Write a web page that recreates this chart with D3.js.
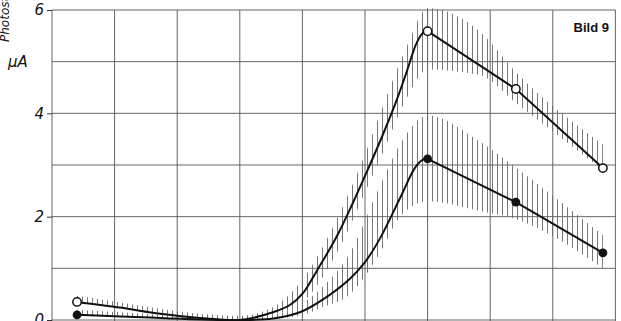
<!DOCTYPE html>
<html lang="de">
<head>
<meta charset="UTF-8">
<title>Bild 9</title>
<script src="https://cdn.jsdelivr.net/npm/d3@7"></script>
<style>
  body { margin: 0; background: #fff; }
  svg { display: block; }
</style>
</head>
<body>
<svg id="chart" width="621" height="321"></svg>
<script>
// grid / axis
const xTicks = [0, 1, 2, 3, 4, 5, 6, 7, 8, 9];
const yTicks = [0, 1, 2, 3, 4, 5, 6];
const yLabels = [0, 2, 4, 6];

// open circles curve (rising part)
const openRiseX = [0.40, 1.09, 1.73, 2.36, 3.00, 3.53, 3.80, 4.01, 4.23, 4.55, 4.80, 5.03, 5.29, 5.51, 5.67, 5.82, 5.92, 6.00];
const openRiseY = [0.35, 0.24, 0.12, 0.04, 0.00, 0.15, 0.29, 0.52, 0.95, 1.62, 2.25, 2.87, 3.60, 4.27, 4.82, 5.35, 5.55, 5.59];
const openMarkX = [0.40, 6.00, 7.41, 8.80];
const openMarkY = [0.35, 5.59, 4.47, 2.94];
const openBandX = [0.40, 1.09, 1.73, 2.36, 3.00, 3.53, 4.01, 4.55, 5.03, 5.29, 5.67, 6.00, 6.83, 7.41, 8.80];
const openBandLo = [0.35, 0.24, 0.12, 0.03, 0.00, 0.10, 0.35, 1.30, 2.55, 3.25, 4.30, 4.85, 4.74, 4.20, 2.90];
const openBandHi = [0.47, 0.34, 0.22, 0.12, 0.08, 0.25, 0.80, 1.95, 3.30, 4.15, 5.30, 6.05, 5.59, 4.80, 3.40];

// filled circles curve
const fillRiseX = [0.40, 1.09, 1.73, 2.36, 3.00, 3.53, 3.96, 4.33, 4.76, 5.00, 5.24, 5.56, 5.80, 5.92, 6.00];
const fillRiseY = [0.10, 0.07, 0.04, 0.01, 0.00, 0.03, 0.15, 0.40, 0.80, 1.12, 1.58, 2.36, 2.95, 3.10, 3.12];
const fillMarkX = [0.40, 6.00, 7.41, 8.80];
const fillMarkY = [0.10, 3.12, 2.28, 1.30];
const fillBandX = [0.40, 1.09, 1.73, 2.36, 3.00, 3.53, 3.96, 4.33, 4.76, 5.24, 5.56, 6.00, 6.83, 7.41, 8.80];
const fillBandLo = [0.09, 0.06, 0.03, 0.00, 0.00, 0.02, 0.08, 0.25, 0.50, 1.30, 2.00, 2.30, 2.11, 1.95, 1.00];
const fillBandHi = [0.20, 0.15, 0.10, 0.06, 0.06, 0.10, 0.30, 0.65, 1.30, 2.60, 3.40, 3.96, 3.46, 2.95, 1.64];

const svg = d3.select("#chart");

const x = d3.scaleLinear().domain([0, 9]).range([52, 615.4]);
const y = d3.scaleLinear().domain([0, 6]).range([320, 10]);

// hatch pattern for the scatter bands
const defs = svg.append("defs");
defs.append("pattern")
  .attr("id", "hatch")
  .attr("patternUnits", "userSpaceOnUse")
  .attr("width", 5)
  .attr("height", 10)
  .append("line")
  .attr("x1", 2.5).attr("x2", 2.5)
  .attr("y1", 0).attr("y2", 10)
  .attr("stroke", "#666")
  .attr("stroke-width", 0.9);

// grid
const grid = svg.append("g").attr("stroke", "#555").attr("stroke-width", 0.9);
grid.selectAll(".vx").data(xTicks).enter().append("line")
  .attr("x1", d => x(d)).attr("x2", d => x(d))
  .attr("y1", y(6)).attr("y2", y(0) + 4);
grid.selectAll(".hy").data(yTicks).enter().append("line")
  .attr("x1", x(0)).attr("x2", x(9))
  .attr("y1", d => y(d)).attr("y2", d => y(d));

// y axis labels
const yAxis = svg.append("g")
  .attr("transform", "translate(" + x(0) + ",0)")
  .call(d3.axisLeft(y).tickValues(yLabels).tickFormat(d3.format("d")).tickSize(5).tickPadding(3));
yAxis.select(".domain").remove();
yAxis.selectAll("line").attr("stroke", "#333");
yAxis.selectAll("text")
  .attr("font-family", "DejaVu Sans, sans-serif")
  .attr("font-style", "italic")
  .attr("font-size", 15)
  .attr("fill", "#111");

// bands
function band(xs, lo, hi) {
  const rows = xs.map((d, i) => ({ x: d, lo: lo[i], hi: hi[i] }));
  svg.append("path")
    .datum(rows)
    .attr("fill", "url(#hatch)")
    .attr("d", d3.area()
      .x(d => x(d.x))
      .y0(d => y(d.lo))
      .y1(d => Math.max(y(d.hi), 8))
      .curve(d3.curveMonotoneX));
}
band(openBandX, openBandLo, openBandHi);
band(fillBandX, fillBandLo, fillBandHi);

// curves
function curve(rx, ry, mx, my) {
  const rise = rx.map((d, i) => [d, ry[i]]);
  const fall = mx.slice(1).map((d, i) => [d, my[i + 1]]);
  svg.append("path")
    .datum(rise)
    .attr("fill", "none").attr("stroke", "#111").attr("stroke-width", 2)
    .attr("d", d3.line().x(d => x(d[0])).y(d => y(d[1])).curve(d3.curveCatmullRom.alpha(0.5)));
  svg.append("path")
    .datum(fall)
    .attr("fill", "none").attr("stroke", "#111").attr("stroke-width", 2)
    .attr("d", d3.line().x(d => x(d[0])).y(d => y(d[1])));
}
curve(openRiseX, openRiseY, openMarkX, openMarkY);
curve(fillRiseX, fillRiseY, fillMarkX, fillMarkY);

// markers
svg.append("g").selectAll("circle")
  .data(openMarkX.map((d, i) => [d, openMarkY[i]])).enter()
  .append("circle")
  .attr("cx", d => x(d[0])).attr("cy", d => y(d[1]))
  .attr("r", 4.2)
  .attr("fill", "#fff").attr("stroke", "#111").attr("stroke-width", 1.5);
svg.append("g").selectAll("circle")
  .data(fillMarkX.map((d, i) => [d, fillMarkY[i]])).enter()
  .append("circle")
  .attr("cx", d => x(d[0])).attr("cy", d => y(d[1]))
  .attr("r", 4.4)
  .attr("fill", "#111");

// texts
svg.append("text")
  .attr("x", 609).attr("y", 32)
  .attr("text-anchor", "end")
  .attr("font-family", "Liberation Sans, Arial, sans-serif")
  .attr("font-size", 13)
  .attr("font-weight", 600)
  .attr("fill", "#111")
  .text("Bild 9");

svg.append("text")
  .attr("x", 8).attr("y", 67)
  .attr("font-family", "DejaVu Sans, sans-serif")
  .attr("font-style", "italic")
  .attr("font-size", 15)
  .attr("fill", "#111")
  .text("μA");

svg.append("text")
  .attr("transform", "translate(9,42) rotate(-90)")
  .attr("font-family", "DejaVu Sans, sans-serif")
  .attr("font-style", "italic")
  .attr("font-size", 12)
  .attr("fill", "#111")
  .text("Photostrom");
</script>
</body>
</html>
